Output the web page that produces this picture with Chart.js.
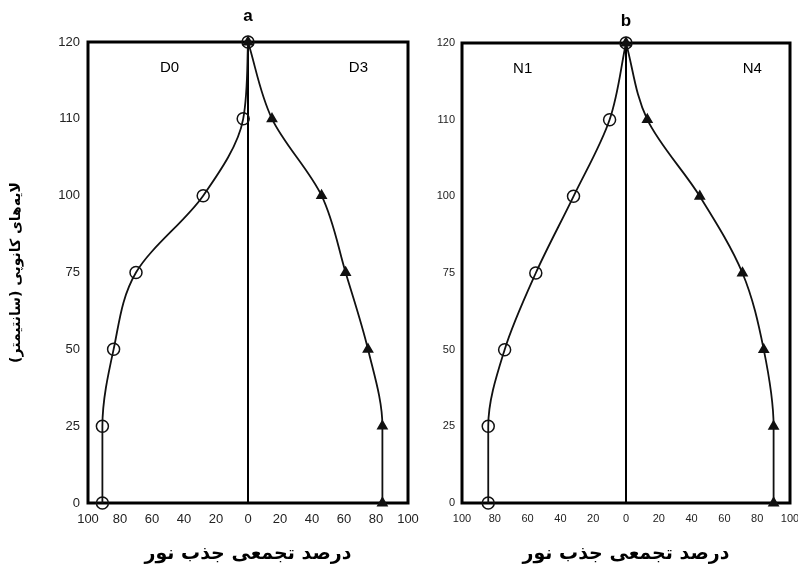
<!DOCTYPE html>
<html lang="fa">
<head>
    <meta charset="UTF-8">
    <title>جذب نور در لایه‌های کانوپی</title>
    <script src="https://cdn.jsdelivr.net/npm/chart.js"></script>
    <style>
        body, html {
            margin: 0;
            padding: 0;
            background: #fff;
        }
        .wrap {
            position: relative;
            width: 798px;
            height: 570px;
        }
        #chartA { position: absolute; left: 0; top: 0; }
        #chartB { position: absolute; left: 420px; top: 0; }
    </style>
</head>
<body>
    <div class="wrap">
        <canvas id="chartA" width="420" height="570"></canvas>
        <canvas id="chartB" width="378" height="570"></canvas>
    </div>

    <script>
        // ارتفاع لایه‌ها (سانتیمتر) - محور عمودی با فاصله‌های مساوی
        const depths = [0, 25, 50, 75, 100, 110, 120];
        const xTicks = [-100, -80, -60, -40, -20, 0, 20, 40, 60, 80, 100];

        // درصد تجمعی جذب نور
        const D0 = [91, 91, 84, 70, 28, 3, 0];
        const D3 = [84, 84, 75, 61, 46, 15, 0];
        const N1 = [84, 84, 74, 55, 32, 10, 0];
        const N4 = [90, 90, 84, 71, 45, 13, 0];

        const yTitle = 'لایه‌های کانوپی (سانتیمتر)\u200F';
        const xTitle = 'درصد تجمعی جذب نور';
        const persianFont = "'DejaVu Sans', 'Liberation Sans', sans-serif";
        const tickFamily = "'Liberation Sans', Arial, sans-serif";

        // قاب، حروف a/b و برچسب تیمارها
        const panelPlugin = {
            id: 'panel',
            beforeDatasetsDraw(chart, args, opts) {
                const { ctx, chartArea: { left, top, right, bottom } } = chart;
                ctx.save();
                ctx.strokeStyle = '#000';
                ctx.lineWidth = 3;
                ctx.strokeRect(left, top, right - left, bottom - top);
                ctx.restore();
            },
            afterDraw(chart, args, opts) {
                const { ctx, chartArea: { top } } = chart;
                const xs = chart.scales.x;
                ctx.save();
                ctx.fillStyle = '#000';
                ctx.textAlign = 'center';
                ctx.textBaseline = 'middle';
                ctx.font = 'bold 17px ' + tickFamily;
                ctx.fillText(opts.letter, xs.getPixelForValue(0), opts.letterY);
                ctx.font = '15px ' + tickFamily;
                ctx.fillText(opts.leftName, xs.getPixelForValue(opts.leftAt), top + 26);
                ctx.fillText(opts.rightName, xs.getPixelForValue(opts.rightAt), top + 26);
                ctx.restore();
            }
        };

        function makeChart(id, leftData, rightData, cfg) {
            const ctx = document.getElementById(id).getContext('2d');
            return new Chart(ctx, {
                type: 'line',
                data: {
                    labels: depths,
                    datasets: [{
                        label: cfg.leftName,
                        data: leftData.map(v => -v),
                        borderColor: '#111',
                        borderWidth: 1.8,
                        pointStyle: 'circle',
                        pointRadius: 6,
                        pointBackgroundColor: 'rgba(255,255,255,0)',
                        pointBorderColor: '#111',
                        pointBorderWidth: 1.5,
                        cubicInterpolationMode: 'monotone',
                        clip: false
                    }, {
                        label: cfg.rightName,
                        data: rightData,
                        borderColor: '#111',
                        borderWidth: 1.8,
                        pointStyle: 'triangle',
                        pointRadius: 5,
                        pointBackgroundColor: '#111',
                        pointBorderColor: '#111',
                        cubicInterpolationMode: 'monotone',
                        clip: false
                    }]
                },
                options: {
                    indexAxis: 'y',
                    responsive: false,
                    animation: false,
                    layout: { padding: cfg.padding },
                    plugins: {
                        legend: { display: false },
                        tooltip: { enabled: false },
                        panel: cfg
                    },
                    scales: {
                        x: {
                            type: 'linear',
                            min: -100,
                            max: 100,
                            afterBuildTicks: s => { s.ticks = xTicks.map(v => ({ value: v })); },
                            afterFit: s => {
                                s.height = 67;
                                s.paddingLeft = 0;
                                s.paddingRight = 0;
                            },
                            border: { display: false },
                            grid: {
                                drawTicks: false,
                                lineWidth: 2,
                                color: c => (c.tick && c.tick.value === 0) ? '#000' : 'rgba(0,0,0,0)'
                            },
                            ticks: {
                                autoSkip: false,
                                maxRotation: 0,
                                padding: 9,
                                color: '#222',
                                font: { family: tickFamily, size: cfg.tickSize },
                                callback: v => Math.abs(v)
                            },
                            title: {
                                display: true,
                                text: xTitle,
                                color: '#000',
                                font: { family: persianFont, size: 19, weight: 'bold' },
                                padding: { top: 0, bottom: 5 }
                            }
                        },
                        y: {
                            type: 'category',
                            reverse: true,
                            offset: false,
                            afterFit: s => {
                                s.width = cfg.yWidth;
                                s.paddingTop = 0;
                                s.paddingBottom = 0;
                            },
                            border: { display: false },
                            grid: { display: false, drawTicks: false },
                            ticks: {
                                padding: cfg.yPad,
                                color: '#222',
                                font: { family: tickFamily, size: cfg.tickSize }
                            },
                            title: {
                                display: cfg.showYTitle,
                                text: yTitle,
                                color: '#000',
                                font: { family: persianFont, size: 14, weight: 'bold' },
                                padding: { top: 8, bottom: 0 }
                            }
                        }
                    }
                },
                plugins: [panelPlugin]
            });
        }

        makeChart('chartA', D0, D3, {
            letter: 'a', letterY: 16,
            leftName: 'D0', leftAt: -49,
            rightName: 'D3', rightAt: 69,
            padding: { top: 42, right: 12, bottom: 0, left: 0 },
            yWidth: 88, yPad: 8, tickSize: 13, showYTitle: true
        });

        makeChart('chartB', N1, N4, {
            letter: 'b', letterY: 21,
            leftName: 'N1', leftAt: -63,
            rightName: 'N4', rightAt: 77,
            padding: { top: 43, right: 8, bottom: 0, left: 0 },
            yWidth: 42, yPad: 7, tickSize: 11, showYTitle: false
        });
    </script>
</body>
</html>
